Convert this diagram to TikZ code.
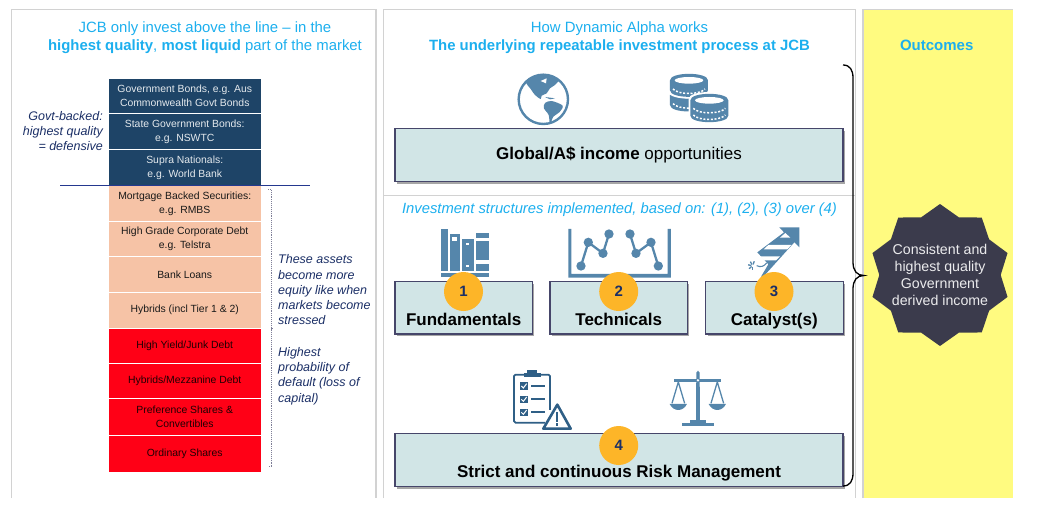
\documentclass[tikz,border=0pt]{standalone}
\usepackage{fontspec}
\setmainfont{Liberation Sans}
\usetikzlibrary{positioning, shapes.geometric, shadows}

\definecolor{jcbcyan}{HTML}{1CAFEE}
\definecolor{panelgrey}{HTML}{D2D2D2}
\definecolor{iconblue}{HTML}{5586AB}
\definecolor{icondark}{HTML}{2F5F86}
\definecolor{boxfill}{HTML}{D1E5E6}
\definecolor{boxedge}{HTML}{46466A}
\definecolor{govtnavy}{HTML}{1E4467}
\definecolor{peach}{HTML}{F6C3A6}
\definecolor{junkred}{HTML}{FF0016}
\definecolor{sidenavy}{HTML}{1B2F66}
\definecolor{badge}{HTML}{FDB528}
\definecolor{starfill}{HTML}{3B3B4C}
\definecolor{outcomeyellow}{HTML}{FFFB80}

\newcommand{\fsz}[2]{\fontsize{#1}{#2}\selectfont}
\newcommand{\coincyl}[3]{
	\fill[white] (#1-62,#2-4) .. controls (#1-62,#2-32) and (#1+62,#2-32) .. (#1+62,#2-4) -- (#1+62,#2+#3+4) .. controls (#1+62,#2+#3+32) and (#1-62,#2+#3+32) .. (#1-62,#2+#3+4) -- cycle;
	\fill[iconblue] (#1-57,#2) .. controls (#1-57,#2-26) and (#1+57,#2-26) .. (#1+57,#2) -- (#1+57,#2+#3) .. controls (#1+57,#2+#3+26) and (#1-57,#2+#3+26) .. (#1-57,#2+#3) -- cycle;
	\fill[white] (#1,#2) ellipse (43 and 10);
}
\newcommand{\coindash}[2]{
	\draw[white, line width=1.5pt, dash pattern=on 2pt off 1.7pt] (#1-48,#2) .. controls (#1-32,#2+18) and (#1+32,#2+18) .. (#1+48,#2);
}

\tikzset{
	panel/.style={draw=panelgrey, line width=1.1pt},
	headline/.style={text=jcbcyan, align=center, inner sep=0pt, font=\fsz{14.9}{18}},
	tier/.style={draw=white, line width=0.8pt, minimum width=153pt, inner sep=0pt, align=center, font=\fsz{10.4}{13.7}},
	govttier/.style={tier, fill=govtnavy, text=white!88!govtnavy},
	peachtier/.style={tier, fill=peach, text=black!90},
	redtier/.style={tier, fill=junkred, text=black!88!junkred},
	sidenote/.style={text=sidenavy, inner sep=0pt, font=\fsz{12.5}{15.3}\itshape},
	process/.style={draw=boxedge, line width=1.1pt, fill=boxfill, inner sep=0pt, minimum height=52.5pt,
		drop shadow={shadow xshift=2pt, shadow yshift=-2.5pt, fill=black, opacity=0.35}},
	processtext/.style={inner sep=0pt, text height=12pt, text depth=3pt, font=\fsz{17}{18}\bfseries},
	numbered/.style={circle, fill=badge, text=sidenavy, minimum size=39pt, inner sep=0pt, font=\fsz{15}{15}\bfseries},
}

\begin{document}
\begin{tikzpicture}[x=1pt, y=-1pt]
	\useasboundingbox (0,0) rectangle (1047,514);

	% panels
	\fill[outcomeyellow] (863,9.5) rectangle (1013,498);
	\draw[panel] (11.5,498) -- (11.5,9.5) -- (376,9.5) -- (376,498);
	\draw[panel] (383.5,498) -- (383.5,9.5) -- (855.5,9.5) -- (855.5,498);
	\draw[panel] (383.5,195.5) -- (855.5,195.5);
	\draw[panel] (863,498) -- (863,9.5) -- (1013,9.5);

	% left panel
	\node[headline] (leftTitle) at (205,37.5) {JCB only invest above the line -- in the\\ \textbf{highest quality}, \textbf{most liquid} part of the market};
	\node[govttier, minimum height=35.5pt] (govBonds) at (184.75,96) {Government Bonds, e.g. Aus\\Commonwealth Govt Bonds};
	\node[govttier, minimum height=35.5pt] (stateBonds) at (184.75,131.5) {State Government Bonds:\\e.g. NSWTC};
	\node[govttier, minimum height=36pt] (supra) at (184.75,167.5) {Supra Nationals:\\e.g. World Bank};
	\node[peachtier, minimum height=35.5pt] (mbs) at (184.75,203.5) {Mortgage Backed Securities:\\e.g. RMBS};
	\node[peachtier, minimum height=35.5pt] (corpDebt) at (184.75,239) {High Grade Corporate Debt\\e.g. Telstra};
	\node[peachtier, minimum height=35.5pt] (loans) at (184.75,274.5) {Bank Loans};
	\node[peachtier, minimum height=36pt] (hybrids) at (184.75,310.2) {Hybrids (incl Tier 1 \& 2)};
	\node[redtier, minimum height=35pt] (junk) at (184.75,345.7) {High Yield/Junk Debt};
	\node[redtier, minimum height=35.5pt] (mezz) at (184.75,381) {Hybrids/Mezzanine Debt};
	\node[redtier, minimum height=36.5pt] (prefs) at (184.75,416.7) {Preference Shares \&\\Convertibles};
	\node[redtier, minimum height=37pt] (ordinary) at (184.75,453.5) {Ordinary Shares};

	\coordinate (lineLeft) at (60,185.5);
	\coordinate (lineRight) at (310,185.5);
	\draw[color=iconblue!60!blue!70!black, line width=0.9pt] (lineLeft) -- (lineRight);
	\draw[densely dotted, color=boxedge!70, line width=0.9pt] (268,189) -- (271,189) -- (271,466) -- (268,466);
	\draw[color=boxedge!70, line width=0.9pt] (271,328) -- (273,328);

	\node[sidenote, align=right, anchor=east] (govtNote) at (103,131) {Govt-backed:\\highest quality\\= defensive};
	\node[sidenote, align=left, anchor=north west] (equityNote) at (278,254.5) {These assets\\become more\\equity like when\\markets become\\stressed};
	\node[sidenote, align=left, anchor=north west] (defaultNote) at (278,347) {Highest\\probability of\\default (loss of\\capital)};

	% middle panel
	\node[headline] (midTitle) at (619.5,37.5) {How Dynamic Alpha works\\\textbf{The underlying repeatable investment process at JCB}};
	\node[process, minimum width=448pt] (income) at (619,155) {};
	\node[inner sep=0pt, font=\fsz{17}{18}] (incomeText) at (income.center) {\textbf{Global/A\$ income} opportunities};
	\node[text=jcbcyan, inner sep=0pt, font=\fsz{14.8}{16}\itshape] (basedOn) at (619.5,209.5) {Investment structures implemented, based on: (1), (2), (3) over (4)};

	\node[process, minimum width=137.5pt] (fund) at (463.7,307.7) {};
	\node[process, minimum width=137.5pt] (tech) at (618.7,307.7) {};
	\node[process, minimum width=137.5pt] (cat) at (774.3,307.7) {};
	\node[process, minimum width=448pt] (risk) at (619,460) {};
	\node[processtext, above=6pt of fund.south] (fundText) {Fundamentals};
	\node[processtext, above=6pt of tech.south] (techText) {Technicals};
	\node[processtext, above=6pt of cat.south] (catText) {Catalyst(s)};
	\node[processtext, above=6pt of risk.south] (riskText) {Strict and continuous Risk Management};

	% globe
	\begin{scope}[shift={(500,65)}, scale=0.3333]
		\draw[iconblue, line width=2.4pt] (130,103) circle (74);
		\fill[iconblue] plot [smooth cycle, tension=0.5] coordinates { (78,50) (105,32) (150,30) (175,45) (165,60) (150,70) (140,85) (125,92) (122,102) (105,90) (92,72) };
		\fill[iconblue] plot [smooth cycle, tension=0.5] coordinates { (135,114) (155,108) (188,122) (178,142) (160,155) (150,178) (146,150) (132,130) };
		\fill[white] (122,48) -- (140,40) -- (138,55) -- cycle;
		\fill[iconblue] (135,96) -- (165,100) -- (150,103) -- cycle;
	\end{scope}

	% coins
	\begin{scope}[shift={(500,65)}, scale=0.3333]
		\coincyl{567}{90}{30}
		\coincyl{567}{46}{30}
		\coindash{567}{72}
		\coindash{567}{116}
		\coincyl{628}{106}{46}
		\coindash{628}{130}
		\coindash{628}{150}
	\end{scope}

	% books
	\begin{scope}[shift={(380,190)}, scale=0.3333]
		\fill[iconblue] (183,117) rectangle (203,243);
		\fill[iconblue] (210,132) rectangle (239,243);
		\fill[iconblue] (247,148) rectangle (281,243);
		\fill[iconblue] (289,128) rectangle (327,243);
		\fill[iconblue] (183,250) rectangle (327,261);
		\fill[white] (217,140) rectangle (231,154);
		\fill[white] (259,158) rectangle (267,166);
		\fill[white] (259,224) rectangle (267,232);
		\fill[white] (289,145) rectangle (327,152);
		\fill[white] (289,210) rectangle (327,222);
	\end{scope}

	% chart
	\begin{scope}[shift={(380,190)}, scale=0.3333]
		\fill[iconblue] (565,117) -- (574,117) -- (574,252) -- (863,252) -- (863,117) -- (873,117) -- (873,263) -- (565,263) -- cycle;
		\draw[iconblue, line width=2.3pt] (603,228) -- (625,157) -- (669,190) -- (687,132);
		\draw[iconblue, line width=2.3pt] (750,132) -- (768,190) -- (813,157) -- (835,228);
		\foreach \px/\py in {603/228, 625/157, 669/190, 687/132, 750/132, 768/190, 813/157, 835/228}
			\fill[iconblue] (\px,\py) circle (14);
	\end{scope}

	% rocket
	\begin{scope}[shift={(700,195)}, scale=0.3333]
		\fill[iconblue] (238,97) -- (298,97) -- (298,157) -- (283,142) -- (190,245) -- (183,245) -- (205,208) -- (172,172) -- (252,112) -- cycle;
		\fill[white] (240,128) -- (256,114) -- (271,128) -- cycle;
		\fill[white] (205,150) -- (274,150) -- (262,163) -- (191,163) -- cycle;
		\fill[white] (180,184) -- (240,184) -- (228,196) -- (192,196) -- cycle;
		\draw[iconblue, line width=1.1pt] (170,212) .. controls (182,218) and (192,214) .. (200,204);
		\foreach \sa in {90,140,190,240,290}
			\draw[iconblue, line width=1.3pt] (158,212) ++(\sa:4) -- ++(\sa:10);
	\end{scope}

	% clipboard
	\begin{scope}[shift={(500,360)}, scale=0.3333]
		\draw[icondark, line width=1.8pt, rounded corners=1.5pt] (135,188) -- (42,188) -- (42,44) -- (150,44) -- (150,150);
		\fill[icondark] (72,52) rectangle (122,38);
		\fill[icondark] (82,40) rectangle (110,29);
		\foreach \rowy in {78,118,157}{
			\fill[icondark] (60,\rowy-11) rectangle (83,\rowy+11);
			\draw[white, line width=1pt] (64,\rowy) -- (70,\rowy+6) -- (80,\rowy-7);
			\draw[icondark, line width=2.2pt] (93,\rowy) -- (134,\rowy);
		}
		\filldraw[draw=icondark, fill=white, line width=2.6pt, line join=round] (172,134) -- (212,206) -- (130,206) -- cycle;
		\fill[icondark] (168,157) rectangle (175,186);
		\fill[icondark] (168,190) rectangle (175,197);
	\end{scope}

	% scales
	\begin{scope}[shift={(500,360)}, scale=0.3333]
		\fill[iconblue] (589,38) -- (594,32) -- (599,38) -- (600,185) -- (588,185) -- cycle;
		\fill[iconblue] (522,56) rectangle (664,67);
		\fill[iconblue] (570,180) rectangle (618,190);
		\fill[iconblue] (545,188) rectangle (643,199);
		\fill[white] (594,61) circle (4);
		\foreach \ox in {535,652}{
			\draw[iconblue, line width=1.3pt] (\ox-19,130) -- (\ox,66) -- (\ox+19,130);
			\fill[iconblue] (\ox-26,132) .. controls (\ox-14,156) and (\ox+14,156) .. (\ox+26,132) -- cycle;
		}
	\end{scope}

	% badges
	\node[numbered] (one) at (463.5,291.5) {1};
	\node[numbered] (two) at (618.7,291.5) {2};
	\node[numbered] (three) at (774,291.5) {3};
	\node[numbered] (four) at (618.7,445.5) {4};

	% brace
	\coordinate (braceTop) at (843,65);
	\coordinate (braceTip) at (864,275.5);
	\coordinate (braceBottom) at (843,486);
	\draw[line width=1.3pt] (braceTop) .. controls (850,65) and (853,70) .. (853,78) -- (853,262) .. controls (853,271) and (857,275.5) .. (braceTip) .. controls (857,275.5) and (853,280) .. (853,289) -- (853,473) .. controls (853,481) and (850,486) .. (braceBottom);

	% outcomes
	\node[text=jcbcyan, inner sep=0pt, font=\fsz{15}{18}\bfseries] (outcomes) at (936.7,45) {Outcomes};
	\node[star, star points=10, star point ratio=1.17, minimum size=142pt, inner sep=0pt, fill=starfill] (incomeStar) at (940,275) {};
	\node[inner sep=0pt, text=white!90!starfill, align=center, font=\fsz{14.2}{17}] (starText) at (incomeStar.center) {Consistent and\\highest quality\\Government\\derived income};
\end{tikzpicture}
\end{document}
